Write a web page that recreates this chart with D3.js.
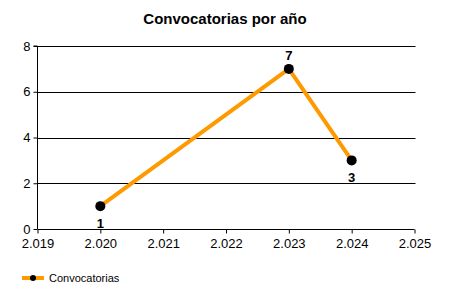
<!DOCTYPE html>
<html>
<head>
<meta charset="utf-8">
<script src="https://cdn.jsdelivr.net/npm/d3@7"></script>
<style>
  body { margin: 0; background: #fff; }
  text { font-family: "Liberation Sans", Arial, sans-serif; }
</style>
</head>
<body>
<script>
let width = 450;
let height = 300;

// data
let years = [2020, 2023, 2024];
let counts = [1, 7, 3];
let labelPos = ["below", "above", "below"];
let xTicks = [2019, 2020, 2021, 2022, 2023, 2024, 2025];
let xTickLabels = ["2.019", "2.020", "2.021", "2.022", "2.023", "2.024", "2.025"];
let yTicks = [0, 2, 4, 6, 8];
let seriesName = "Convocatorias";
let title = "Convocatorias por año";

let margin = { left: 37.5, right: 35.5, top: 46, bottom: 71 };

let x = d3.scaleLinear()
    .domain([2019, 2025])
    .range([margin.left, width - margin.right]);
let y = d3.scaleLinear()
    .domain([0, 8])
    .range([height - margin.bottom, margin.top]);

let svg = d3.select("body").append("svg")
    .attr("width", width)
    .attr("height", height);

svg.append("text")
    .attr("x", 225)
    .attr("y", 24)
    .attr("text-anchor", "middle")
    .style("font-weight", "bold")
    .style("font-size", "15px")
    .text(title);

// grid lines
svg.append("g")
    .selectAll("line")
    .data(yTicks.filter(d => d > 0))
    .enter().append("line")
    .attr("x1", margin.left)
    .attr("x2", width - margin.right + 1)
    .attr("y1", d => Math.round(y(d)) + 0.5)
    .attr("y2", d => Math.round(y(d)) + 0.5)
    .style("stroke", "#000")
    .style("stroke-width", 1);

// y axis
let yAxis = svg.append("g")
    .attr("transform", `translate(${margin.left},0)`)
    .call(d3.axisLeft(y).tickValues(yTicks).tickSize(4).tickPadding(3).tickFormat(d3.format("d")));
yAxis.select(".domain").attr("d", `M-4,${y(8)}H0V${y(0)}`).style("stroke", "#000");
yAxis.selectAll(".tick line").style("stroke", "#000");
yAxis.selectAll(".tick text").style("font-size", "13px").style("font-family", "Liberation Sans, Arial, sans-serif").style("fill", "#000");

// x axis
let xAxis = svg.append("g")
    .attr("transform", `translate(0,${Math.round(y(0)) + 0.5})`)
    .call(d3.axisBottom(x).tickValues(xTicks).tickSize(4).tickPadding(5)
        .tickFormat((d, i) => xTickLabels[i]));
xAxis.select(".domain").attr("d", `M${margin.left},0H${width - margin.right}`).style("stroke", "#000");
xAxis.selectAll(".tick line").style("stroke", "#000");
xAxis.selectAll(".tick text").style("font-size", "13px").style("font-family", "Liberation Sans, Arial, sans-serif").style("fill", "#000");

// series
let pts = years.map((d, i) => ({ x: d, y: counts[i], pos: labelPos[i] }));
let line = d3.line().x(d => x(d.x)).y(d => y(d.y));

svg.append("path")
    .datum(pts)
    .attr("d", line)
    .style("fill", "none")
    .style("stroke", "#FF9900")
    .style("stroke-width", 4)
    .style("stroke-linejoin", "round");

svg.selectAll("circle.pt")
    .data(pts)
    .enter().append("circle")
    .attr("class", "pt")
    .attr("cx", d => x(d.x))
    .attr("cy", d => y(d.y))
    .attr("r", 5)
    .style("fill", "#000");

svg.selectAll("text.lbl")
    .data(pts)
    .enter().append("text")
    .attr("class", "lbl")
    .attr("x", d => x(d.x))
    .attr("y", d => d.pos === "above" ? y(d.y) - 9 : y(d.y) + 22)
    .attr("text-anchor", "middle")
    .style("font-weight", "bold")
    .style("font-size", "13px")
    .text(d => d.y);

// legend
let lg = svg.append("g").attr("transform", "translate(22,278)");
lg.append("line")
    .attr("x1", 0).attr("x2", 22)
    .attr("y1", 0).attr("y2", 0)
    .style("stroke", "#FF9900")
    .style("stroke-width", 4);
lg.append("circle")
    .attr("cx", 11).attr("cy", 0).attr("r", 3)
    .style("fill", "#000");
lg.append("text")
    .attr("x", 27).attr("y", 4)
    .style("font-size", "11px")
    .text(seriesName);
</script>
</body>
</html>
